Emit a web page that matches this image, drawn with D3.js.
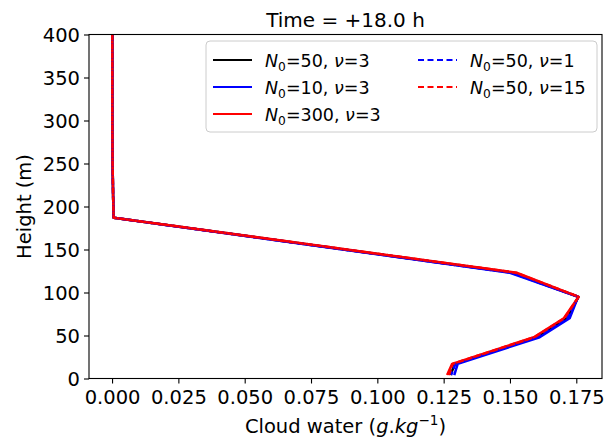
<!DOCTYPE html>
<html>
<head>
<meta charset="utf-8">
<script src="https://cdn.jsdelivr.net/npm/d3@7"></script>
<style>
  html, body { margin: 0; padding: 0; background: #fff; }
  svg { display: block; font-family: "DejaVu Sans", sans-serif; }
</style>
</head>
<body>
<svg id="chart" width="615" height="441"></svg>
<script>
// ---------------- data ----------------
const heights = [400, 350, 300, 250, 212, 187, 123, 95, 70, 48, 17, 4];
const cwBlackN50nu3  = [0.0001, 0.0001, 0.0001, 0.0002, 0.0004, 0.0006, 0.1510, 0.1758, 0.1714, 0.1600, 0.1292, 0.1276];
const cwBlueN10nu3   = [0.0001, 0.0001, 0.0001, 0.0002, 0.0004, 0.0006, 0.1500, 0.1757, 0.1725, 0.1612, 0.1303, 0.1290];
const cwRedN300nu3   = [0.0001, 0.0001, 0.0001, 0.0002, 0.0004, 0.0006, 0.1525, 0.1759, 0.1703, 0.1590, 0.1282, 0.1263];
const cwBlueN50nu1   = [0.0001, 0.0001, 0.0001, 0.0002, 0.0004, 0.0006, 0.1505, 0.1758, 0.1716, 0.1602, 0.1294, 0.1278];
const cwRedN50nu15   = [0.0001, 0.0001, 0.0001, 0.0002, 0.0004, 0.0006, 0.1522, 0.1759, 0.1705, 0.1592, 0.1284, 0.1270];

const xTicks = [0.000, 0.025, 0.050, 0.075, 0.100, 0.125, 0.150, 0.175];
const yTicks = [0, 50, 100, 150, 200, 250, 300, 350, 400];
const titleText = "Time = +18.0 h";

const series = [
  { n0: "50",  nu: "3",  values: cwBlackN50nu3, color: "#000000", dashed: false },
  { n0: "10",  nu: "3",  values: cwBlueN10nu3,  color: "#0000ff", dashed: false },
  { n0: "300", nu: "3",  values: cwRedN300nu3,  color: "#ff0000", dashed: false },
  { n0: "50",  nu: "1",  values: cwBlueN50nu1,  color: "#0000ff", dashed: true },
  { n0: "50",  nu: "15", values: cwRedN50nu15,  color: "#ff0000", dashed: true }
];

// ---------------- layout ----------------
const svg = d3.select("#chart");
const mLeft = 89, mRight = 602, mTop = 34.5, mBottom = 378.5;
const fs = 19.5;

const allVals = series.flatMap(s => s.values);
const xmin = d3.min(allVals), xmax = d3.max(allVals);
const xpad = (xmax - xmin) * 0.05;
const x = d3.scaleLinear().domain([xmin - xpad, xmax + xpad]).range([mLeft, mRight]);
const y = d3.scaleLinear().domain([0, 400]).range([mBottom, mTop]);

svg.append("rect").attr("width", 615).attr("height", 441).attr("fill", "#fff");

svg.append("clipPath").attr("id", "clip")
  .append("rect").attr("x", mLeft).attr("y", mTop).attr("width", mRight - mLeft).attr("height", mBottom - mTop);

const line = d3.line().x(d => x(d[0])).y(d => y(d[1]));
const lw = 2.5;
svg.append("g").attr("clip-path", "url(#clip)")
  .selectAll("path").data(series).join("path")
  .attr("d", s => line(s.values.map((v, i) => [v, heights[i]])))
  .attr("fill", "none")
  .attr("stroke", s => s.color)
  .attr("stroke-width", lw)
  .attr("stroke-linejoin", "round")
  .attr("stroke-dasharray", s => s.dashed ? "6,3" : null);

const xAxis = d3.axisBottom(x).tickValues(xTicks).tickFormat(d3.format(".3f")).tickSizeOuter(0).tickSize(5).tickPadding(4);
const yAxis = d3.axisLeft(y).tickValues(yTicks).tickFormat(d3.format("d")).tickSizeOuter(0).tickSize(5).tickPadding(4);

const gx = svg.append("g").attr("transform", `translate(0,${mBottom})`).call(xAxis);
const gy = svg.append("g").attr("transform", `translate(${mLeft},0)`).call(yAxis);
[gx, gy].forEach(g => {
  g.select(".domain").remove();
  g.selectAll(".tick line").attr("stroke", "#000").attr("stroke-width", 1.1);
  g.selectAll(".tick text").attr("font-size", fs).attr("font-family", "DejaVu Sans").attr("fill", "#000");
});
gx.selectAll(".tick text").attr("dy", "0.73em").attr("y", 11);
gy.selectAll(".tick text").attr("dy", "0.36em");

svg.append("rect").attr("x", mLeft).attr("y", mTop).attr("width", mRight - mLeft).attr("height", mBottom - mTop)
  .attr("fill", "none").attr("stroke", "#000").attr("stroke-width", 1.1);

svg.append("text").attr("x", (mLeft + mRight) / 2).attr("y", 26.5).attr("text-anchor", "middle")
  .attr("font-size", 20).attr("fill", "#000").text(titleText);

const xl = svg.append("text").attr("x", (mLeft + mRight) / 2).attr("y", 433).attr("text-anchor", "middle")
  .attr("font-size", fs).attr("fill", "#000");
xl.append("tspan").text("Cloud water (");
xl.append("tspan").attr("font-style", "italic").text("g");
xl.append("tspan").text(".");
xl.append("tspan").attr("font-style", "italic").text("kg");
xl.append("tspan").attr("font-size", fs * 0.7).attr("dy", -8).text("\u22121");
xl.append("tspan").attr("dy", 8).text(")");

svg.append("text").attr("transform", `translate(31,${(mTop + mBottom) / 2}) rotate(-90)`)
  .attr("text-anchor", "middle").attr("font-size", fs).attr("fill", "#000").text("Height (m)");

const lfs = 17.5;
const leg = svg.append("g");
leg.append("rect").attr("x", 206).attr("y", 41).attr("width", 391).attr("height", 91).attr("rx", 4)
  .attr("fill", "#fff").attr("fill-opacity", 0.8).attr("stroke", "#cccccc").attr("stroke-width", 1);
const colX = [213, 418];
const rowY = [60, 87, 114];
series.forEach((s, i) => {
  const c = i < 3 ? 0 : 1, r = i < 3 ? i : i - 3;
  const hx = colX[c], hy = rowY[r];
  leg.append("line").attr("x1", hx).attr("x2", hx + 39).attr("y1", hy).attr("y2", hy)
    .attr("stroke", s.color).attr("stroke-width", 2)
    .attr("stroke-dasharray", s.dashed ? "6,3.5" : null);
  const t = leg.append("text").attr("x", hx + 52).attr("y", hy + 6.5).attr("font-size", lfs).attr("fill", "#000");
  t.append("tspan").attr("font-style", "italic").text("N");
  t.append("tspan").attr("font-size", lfs * 0.7).attr("dy", 4).text("0");
  t.append("tspan").attr("dy", -4).text("=" + s.n0 + ", ");
  t.append("tspan").attr("font-style", "italic").text("\u03bd");
  t.append("tspan").text("=" + s.nu);
});
</script>
</body>
</html>
